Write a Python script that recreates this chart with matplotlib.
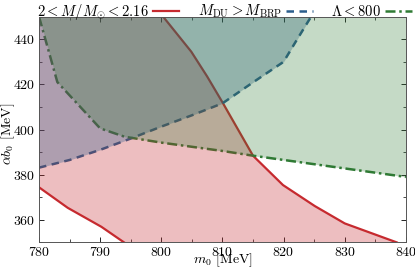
import numpy as np
import matplotlib
matplotlib.use('Agg')
import matplotlib.pyplot as plt

plt.rcParams['font.family'] = 'serif'
plt.rcParams['font.serif'] = ['cmr10']
plt.rcParams['mathtext.fontset'] = 'cm'
plt.rcParams['axes.formatter.use_mathtext'] = True
plt.rcParams['font.size'] = 10

# mass constraint 2 < M/Msun < 2.16 (lower and upper boundary)
red_lo_m0 = [780, 784.7, 790.2, 793.9]
red_lo_ab = [374.4, 365.3, 356.9, 350]
red_hi_m0 = [800.3, 804.9, 807.5, 810.1, 815.0, 819.9, 825.1, 830.0, 838.5]
red_hi_ab = [450, 434.5, 423.5, 411.6, 388.4, 375.4, 366.1, 358.4, 350]

# direct Urca boundary
blue_m0 = [780, 785, 790, 795, 800, 805, 810, 815, 820, 822, 824.5]
blue_ab = [383.1, 386.5, 391, 396, 401.3, 406.3, 411.6, 420.9, 430, 439, 450]

# tidal deformability boundary
green_m0 = [780, 783, 790, 794, 800, 810, 815, 840]
green_ab = [450, 421, 400.5, 396.8, 394.2, 390.5, 388.4, 379]

c_red = '#c62a2f'
c_blue = '#2b5d8c'
c_green = '#2f7a34'

fig = plt.figure(figsize=(4.15, 2.69), dpi=100)
ax = fig.add_axes([0.094, 0.099, 0.884, 0.839])

# lines first, the translucent fills go on top of them
ax.plot(red_lo_m0, red_lo_ab, color=c_red, lw=1.6, zorder=1)
l1, = ax.plot(red_hi_m0, red_hi_ab, color=c_red, lw=1.6, zorder=1)
l2, = ax.plot(blue_m0, blue_ab, color=c_blue, lw=1.8, ls='--', dashes=(3, 2.2), zorder=1)
l3, = ax.plot(green_m0, green_ab, color=c_green, lw=1.8, ls='-.', dashes=(4, 1.5, 1, 1.5), zorder=1)

# red band between the two red curves
poly_x = red_lo_m0 + red_hi_m0[::-1] + [780]
poly_y = red_lo_ab + red_hi_ab[::-1] + [450]
ax.fill(poly_x, poly_y, color=c_red, alpha=0.3, lw=0, zorder=2)
ax.fill_between(blue_m0, blue_ab, 450, color=c_blue, alpha=0.32, lw=0, zorder=2)
ax.fill_between(green_m0, green_ab, 450, color=c_green, alpha=0.28, lw=0, zorder=2)

ax.set_xlim(780, 840)
ax.set_ylim(350, 450)
ax.set_xticks(np.arange(780, 841, 10))
ax.set_xticks(np.arange(780, 841, 5), minor=True)
ax.set_yticks(np.arange(360, 441, 20))
ax.set_yticks(np.arange(350, 451, 10), minor=True)
ax.tick_params(which='both', direction='in', top=True, right=True, pad=2.5)
ax.tick_params(which='major', length=3.5, width=0.6)
ax.tick_params(which='minor', length=2, width=0.5)
for s in ax.spines.values():
    s.set_linewidth(0.7)
    s.set_color('#555555')

ax.set_xlabel(r'$m_0$ [MeV]', va='top')
ax.set_ylabel(r'$\alpha b_0$ [MeV]')
ax.xaxis.set_label_coords(0.5, -0.04)
ax.yaxis.set_label_coords(-0.06, 0.48)

ax.legend([l1, l2, l3],
          [r'$2 < M/M_{\odot} < 2.16$', r'$M_{\rm DU} > M_{\rm BRP}$', r'$\Lambda < 800$'],
          loc='lower left', bbox_to_anchor=(-0.01, 0.97, 1.03, 0.1), mode='expand',
          ncol=3, frameon=False, markerfirst=False, handlelength=1.8,
          handletextpad=0.3, borderaxespad=0, borderpad=0.1, fontsize=10.5)

fig.savefig('out.png', dpi=100)
